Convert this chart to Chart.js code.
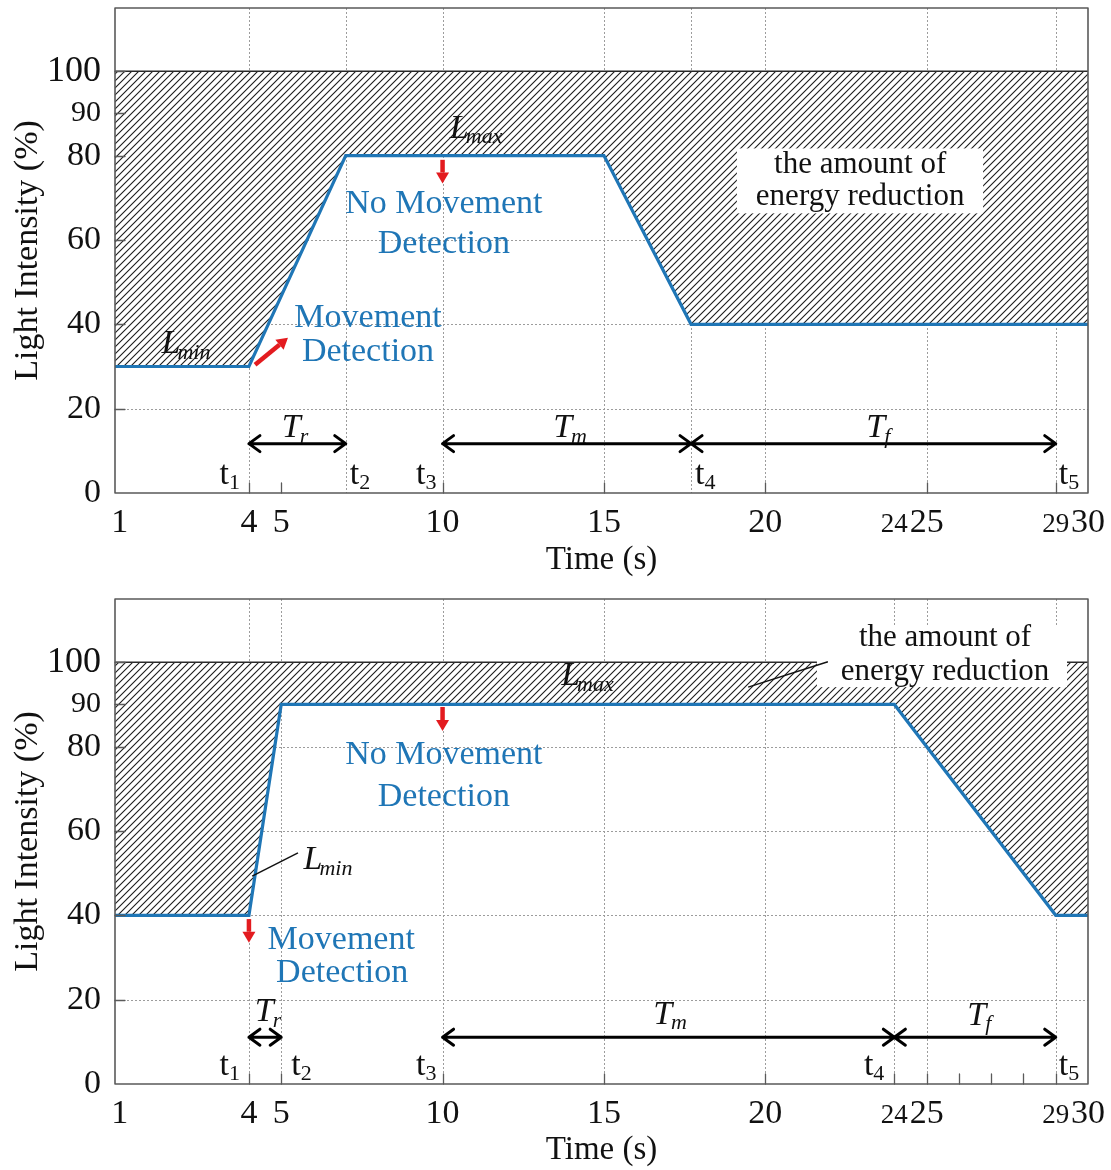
<!DOCTYPE html>
<html><head><meta charset="utf-8">
<script src="https://cdn.jsdelivr.net/npm/chart.js@4.4.1/dist/chart.umd.min.js"></script>
<style>
html,body{margin:0;padding:0;background:#fff;}
canvas{display:block;}
</style></head>
<body>
<canvas id="c1" width="1111" height="585"></canvas>
<canvas id="c2" width="1111" height="585"></canvas>
<script>
// ---------------- data ----------------
const xStart = -0.15, xEnd = 30;
const topTime = [-0.15, 4, 7, 15, 17.7, 30];
const topLight = [30, 30, 80, 80, 40, 40];
const bottomTime = [-0.15, 4, 5, 24, 29, 30];
const bottomLight = [40, 40, 90, 90, 40, 40];
const maxTime = [-0.15, 30];
const maxLight = [100, 100];
const xTickValues = [0, 4, 5, 10, 15, 20, 24, 25, 29, 30];
const xTickLabels = ['1', '4', '5', '10', '15', '20', '24', '25', '29', '30'];
const yTickValues = [0, 20, 40, 60, 80, 90, 100];
const yTickLabels = ['0', '20', '40', '60', '80', '90', '100'];
const gridY = [20, 40, 60, 80, 100];
const topGridX = [4, 7, 10, 15, 17.7, 20, 25, 29];
const bottomGridX = [4, 5, 10, 15, 20, 24, 25, 29];
const topTickMarksX = [4, 5, 10, 15, 20, 25, 29];
const bottomTickMarksX = [4, 5, 10, 15, 20, 24, 25, 26, 27, 28, 29];
const yTickMarks = [20, 40, 60, 80, 90, 100];
const topPhases = [4, 7, 10, 17.7, 29];     // t1..t5
const bottomPhases = [4, 5, 10, 24, 29];    // t1..t5

// ---------------- styles ----------------
const serif = '"Liberation Serif", "Times New Roman", serif';
const blue = '#1f76b6';
const red = '#e31b1f';

function makePattern(ctx) {
  const s = 7;
  const c = document.createElement('canvas'); c.width = s; c.height = s;
  const g = c.getContext('2d');
  g.fillStyle = '#fff'; g.fillRect(0, 0, s, s);
  g.strokeStyle = '#1c1c1c'; g.lineWidth = 1.1;
  g.beginPath();
  g.moveTo(-1, s + 1); g.lineTo(s + 1, -1);
  g.moveTo(-1, 1); g.lineTo(1, -1);
  g.moveTo(s - 1, s + 1); g.lineTo(s + 1, s - 1);
  g.stroke();
  return ctx.createPattern(c, 'repeat');
}

function drawSub(ctx, px, py, main, sub, o) {
  const it = o.italic ? 'italic ' : '';
  const mf = it + o.size + 'px ' + serif;
  const sf = it + o.subSize + 'px ' + serif;
  ctx.font = mf; const mw = ctx.measureText(main).width;
  ctx.font = sf; const sw = ctx.measureText(sub).width;
  const gap = o.gap || 0;
  const total = mw + gap + sw;
  const x0 = o.align === 'left' ? px : (o.align === 'right' ? px - total : px - total / 2);
  ctx.fillStyle = o.color || '#111';
  ctx.textAlign = 'left'; ctx.textBaseline = 'middle';
  ctx.font = mf; ctx.fillText(main, x0, py);
  ctx.font = sf; ctx.fillText(sub, x0 + mw + gap, py + o.size * 0.26);
}

function drawText(ctx, px, py, text, size, color) {
  ctx.font = size + 'px ' + serif;
  ctx.fillStyle = color; ctx.textAlign = 'center'; ctx.textBaseline = 'middle';
  ctx.fillText(text, px, py);
}

function redArrow(ctx, x1, y1, x2, y2) {
  const ang = Math.atan2(y2 - y1, x2 - x1);
  const head = 11, hw = 6.5;
  const bx = x2 - head * Math.cos(ang), by = y2 - head * Math.sin(ang);
  ctx.strokeStyle = red; ctx.lineWidth = 4.5; ctx.lineCap = 'butt';
  ctx.beginPath(); ctx.moveTo(x1, y1); ctx.lineTo(bx, by); ctx.stroke();
  ctx.fillStyle = red; ctx.beginPath();
  ctx.moveTo(x2, y2);
  ctx.lineTo(bx + hw * Math.sin(ang), by - hw * Math.cos(ang));
  ctx.lineTo(bx - hw * Math.sin(ang), by + hw * Math.cos(ang));
  ctx.closePath(); ctx.fill();
}

function spanArrow(ctx, xa, xb, y) {
  ctx.strokeStyle = '#000'; ctx.lineWidth = 3; ctx.lineCap = 'round'; ctx.lineJoin = 'round';
  const h = 11, w = 8;
  ctx.beginPath();
  ctx.moveTo(xa, y); ctx.lineTo(xb, y);
  ctx.moveTo(xa + h, y - w); ctx.lineTo(xa, y); ctx.lineTo(xa + h, y + w);
  ctx.moveTo(xb - h, y - w); ctx.lineTo(xb, y); ctx.lineTo(xb - h, y + w);
  ctx.stroke();
}

function makePlugin(cfg) {
  return {
    id: 'anno_' + cfg.id,
    beforeDatasetsDraw(chart) {
      const { ctx, chartArea: a, scales: { x, y } } = chart;
      ctx.save();
      ctx.strokeStyle = '#9c9c9c'; ctx.lineWidth = 1; ctx.setLineDash([2, 2]);
      ctx.beginPath();
      cfg.gridX.forEach(v => { const px = Math.round(x.getPixelForValue(v)) + 0.5; ctx.moveTo(px, a.top); ctx.lineTo(px, a.bottom); });
      gridY.forEach(v => { const py = Math.round(y.getPixelForValue(v)) + 0.5; ctx.moveTo(a.left, py); ctx.lineTo(a.right, py); });
      ctx.stroke();
      ctx.restore();
    },
    afterDatasetsDraw(chart) {
      const { ctx, chartArea: a, scales: { x, y } } = chart;
      const X = v => x.getPixelForValue(v), Y = v => y.getPixelForValue(v);
      ctx.save();
      // white label box over hatch
      const b = cfg.box;
      ctx.fillStyle = '#fff';
      ctx.fillRect(X(b.x0), Y(b.y1), X(b.x1) - X(b.x0), Y(b.y0) - Y(b.y1));
      cfg.energyText.forEach(t => drawText(ctx, X(t.x), Y(t.y), t.text, 31, '#111'));
      // leader lines
      ctx.strokeStyle = '#111'; ctx.lineWidth = 1.5;
      cfg.leaders.forEach(l => { ctx.beginPath(); ctx.moveTo(X(l[0]), Y(l[1])); ctx.lineTo(X(l[2]), Y(l[3])); ctx.stroke(); });
      // blue texts
      cfg.blueText.forEach(t => drawText(ctx, X(t.x), Y(t.y), t.text, 34, blue));
      // red arrows
      cfg.redArrows.forEach(r => redArrow(ctx, X(r[0]), Y(r[1]), X(r[2]), Y(r[3])));
      // L labels
      cfg.lLabels.forEach(l => drawSub(ctx, X(l.x), Y(l.y), 'L', l.sub, { italic: true, size: 34, subSize: 22, gap: -3 }));
      // phase spans
      const p = cfg.phases;
      const spans = [[p[0], p[1], 'r'], [p[2], p[3], 'm'], [p[3], p[4], 'f']];
      spans.forEach((s, i) => {
        spanArrow(ctx, X(s[0]), X(s[1]), Y(cfg.spanY));
        const lp = cfg.spanLabels[i];
        drawSub(ctx, X(lp.x), Y(lp.y), 'T', s[2], { italic: true, size: 34, subSize: 22, gap: -1 });
      });
      // t labels
      cfg.tLabels.forEach((t, i) => {
        const px = X(p[i]) + t.dx;
        drawSub(ctx, px, Y(4.3), 't', String(i + 1), { italic: false, size: 34, subSize: 22, align: t.dx < 0 ? 'right' : 'left' });
      });
      // frame
      ctx.strokeStyle = '#5a5a5a'; ctx.lineWidth = 1.6; ctx.setLineDash([]);
      ctx.strokeRect(a.left, a.top, a.right - a.left, a.bottom - a.top);
      // inward tick marks
      ctx.beginPath();
      cfg.tickMarksX.forEach(v => { const px = Math.round(X(v)) + 0.5; ctx.moveTo(px, a.bottom); ctx.lineTo(px, a.bottom - 10); });
      yTickMarks.forEach(v => { const py = Math.round(Y(v)) + 0.5; ctx.moveTo(a.left, py); ctx.lineTo(a.left + 10, py); });
      ctx.lineWidth = 1.3; ctx.stroke();
      ctx.restore();
    }
  };
}

function makeChart(id, cfg) {
  const canvas = document.getElementById(id);
  const ctx = canvas.getContext('2d');
  const pattern = makePattern(ctx);
  return new Chart(ctx, {
    type: 'scatter',
    data: {
      datasets: [
        { label: 'Maximum', data: maxTime.map((t, i) => ({ x: t, y: maxLight[i] })), showLine: true,
          borderColor: '#2a2a2a', borderWidth: 1.6, pointRadius: 0, fill: false },
        { label: 'Light intensity', data: cfg.time.map((t, i) => ({ x: t, y: cfg.light[i] })), showLine: true,
          borderColor: blue, borderWidth: 3.2, pointRadius: 0, backgroundColor: pattern, fill: { value: 100 } }
      ]
    },
    options: {
      responsive: false, animation: false, devicePixelRatio: 1,
      layout: { padding: { left: 0, right: 23, top: cfg.padTop, bottom: 0 } },
      plugins: { legend: { display: false }, tooltip: { enabled: false } },
      scales: {
        x: {
          type: 'linear', min: xStart, max: xEnd,
          grid: { display: false, drawTicks: false }, border: { display: false },
          afterBuildTicks: s => { s.ticks = xTickValues.map(v => ({ value: v })); },
          afterFit: s => { s.height = cfg.xAxisH; s.paddingLeft = 0; s.paddingRight = 0; },
          ticks: {
            autoSkip: false, maxRotation: 0, minRotation: 0, padding: 10, color: '#111',
            font: c => ((c.tick && (c.tick.value === 24 || c.tick.value === 29))
              ? { family: serif, size: 27, lineHeight: 1.64 }
              : { family: serif, size: 34, lineHeight: 1.2 }),
            callback: v => { const i = xTickValues.indexOf(v); return i >= 0 ? xTickLabels[i] : ''; }
          },
          title: { display: true, text: 'Time (s)', color: '#111', font: { family: serif, size: 33 }, padding: { top: 0, bottom: cfg.xTitlePad } }
        },
        y: {
          type: 'linear', min: 0, max: 115,
          grid: { display: false, drawTicks: false }, border: { display: false },
          afterBuildTicks: s => { s.ticks = yTickValues.map(v => ({ value: v })); },
          afterFit: s => { s.width = 115; s.paddingTop = 0; s.paddingBottom = 0; },
          ticks: {
            autoSkip: false, padding: 14, color: '#111',
            font: c => ({ family: serif, size: (c.tick && c.tick.value === 100) ? 36 : ((c.tick && c.tick.value === 90) ? 30 : 34) }),
            callback: v => { const i = yTickValues.indexOf(v); return i >= 0 ? yTickLabels[i] : ''; }
          },
          title: { display: true, text: 'Light Intensity (%)', color: '#111', font: { family: serif, size: 34 }, padding: { top: 8, bottom: 0 } }
        }
      }
    },
    plugins: [makePlugin(cfg)]
  });
}

makeChart('c1', {
  id: 'top', time: topTime, light: topLight, padTop: 8, xAxisH: 92, xTitlePad: 5,
  gridX: topGridX, tickMarksX: topTickMarksX, phases: topPhases,
  box: { x0: 19.12, x1: 26.75, y0: 66.3, y1: 81.7 },
  energyText: [{ x: 22.94, y: 77.9, text: 'the amount of' }, { x: 22.94, y: 70.3, text: 'energy reduction' }],
  leaders: [],
  blueText: [
    { x: 7.69, y: 41.5, text: 'Movement' }, { x: 7.69, y: 33.5, text: 'Detection' },
    { x: 10.04, y: 68.6, text: 'No Movement' }, { x: 10.04, y: 59.0, text: 'Detection' }
  ],
  redArrows: [[4.19, 30.4, 5.21, 36.8], [10, 79.0, 10, 73.4]],
  lLabels: [{ x: 2.05, y: 35.2, sub: 'min' }, { x: 11.04, y: 86.4, sub: 'max' }],
  spanY: 11.7,
  spanLabels: [{ x: 5.43, y: 15.4 }, { x: 13.95, y: 15.4 }, { x: 23.5, y: 15.4 }],
  tLabels: [{ dx: -9 }, { dx: 4 }, { dx: -6 }, { dx: 4 }, { dx: 3 }]
});

makeChart('c2', {
  id: 'bottom', time: bottomTime, light: bottomLight, padTop: 14, xAxisH: 86, xTitlePad: 0,
  gridX: bottomGridX, tickMarksX: bottomTickMarksX, phases: bottomPhases,
  box: { x0: 21.6, x1: 29.35, y0: 94.1, y1: 108.8 },
  energyText: [{ x: 25.57, y: 105.8, text: 'the amount of' }, { x: 25.57, y: 97.7, text: 'energy reduction' }],
  leaders: [[19.47, 94.1, 21.94, 100.1], [4.1, 49.3, 5.52, 54.8]],
  blueText: [
    { x: 10.04, y: 78.0, text: 'No Movement' }, { x: 10.04, y: 68.1, text: 'Detection' },
    { x: 6.86, y: 34.1, text: 'Movement' }, { x: 6.89, y: 26.3, text: 'Detection' }
  ],
  redArrows: [[10, 89.4, 10, 83.7], [4, 39.1, 4, 33.5]],
  lLabels: [{ x: 6.45, y: 53.1, sub: 'min' }, { x: 14.49, y: 96.7, sub: 'max' }],
  spanY: 11.1,
  spanLabels: [{ x: 4.59, y: 17.1 }, { x: 17.05, y: 16.4 }, { x: 26.63, y: 16.2 }],
  tLabels: [{ dx: -9 }, { dx: 10 }, { dx: -6 }, { dx: -10 }, { dx: 3 }]
});
</script>
</body></html>
